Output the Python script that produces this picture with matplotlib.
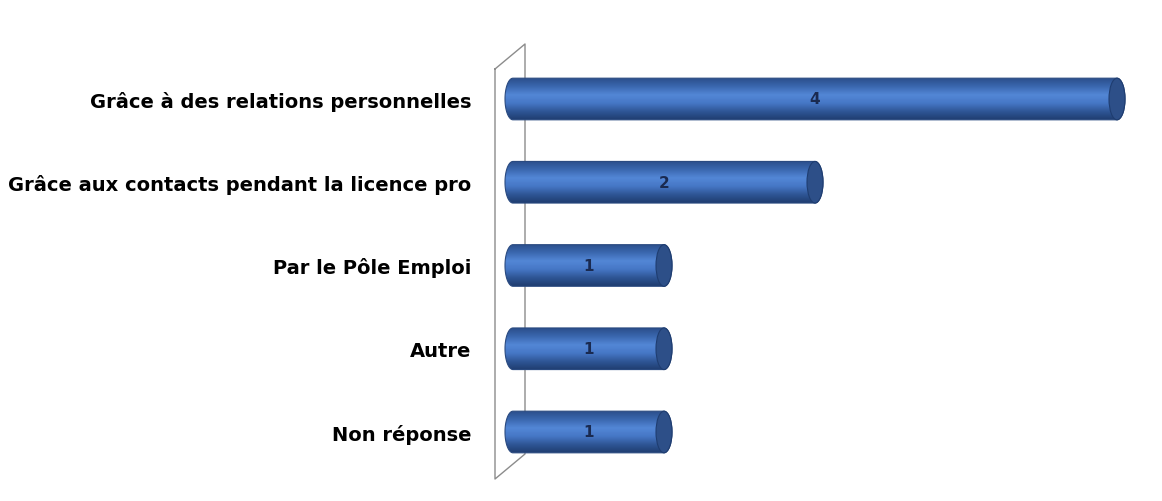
import numpy as np
import matplotlib
matplotlib.use("Agg")
import matplotlib.pyplot as plt
from matplotlib.path import Path
from matplotlib.patches import PathPatch, Ellipse
from matplotlib.colors import LinearSegmentedColormap

categories = ["Grâce à des relations personnelles",
              "Grâce aux contacts pendant la licence pro",
              "Par le Pôle Emploi",
              "Autre",
              "Non réponse"]
values = [4, 2, 1, 1, 1]

UX = 151.0   # px per unit
UY = 83.25   # px per category
X0 = 513     # px of value 0

fig = plt.figure(figsize=(11.62, 5.02), dpi=100)
ax = fig.add_axes([480 / 1162, 0, 682 / 1162, 1])
ax.set_xlim((480 - X0) / UX, (1162 - X0) / UX)
ax.set_ylim(402 / UY, -100 / UY)

# cylinder shading: dark edges, light middle
cmap = LinearSegmentedColormap.from_list(
    "cyl", ["#2b4f8c", "#3b68b0", "#5387d6", "#4677c6", "#2f5696", "#1f3d70"])

h = 0.5          # bar thickness
ew = 8 / UX      # half-width of end ellipse
t = np.linspace(-np.pi / 2, np.pi / 2, 40)

for i, v in enumerate(values):
    y0, y1 = i - h / 2, i + h / 2
    right = np.column_stack([v + ew * np.cos(t), i + h / 2 * np.sin(t)])
    left = np.column_stack([0 - ew * np.cos(t[::-1]), i + h / 2 * np.sin(t[::-1])])
    verts = np.vstack([right, left, right[:1]])
    codes = [Path.MOVETO] + [Path.LINETO] * (len(verts) - 2) + [Path.CLOSEPOLY]
    shape = PathPatch(Path(verts, codes), facecolor="none", edgecolor="#2a4a80", lw=0.8, zorder=3)
    ax.add_patch(shape)
    grad = np.linspace(0, 1, 64).reshape(-1, 1)
    im = ax.imshow(grad, cmap=cmap, aspect="auto", extent=[-ew, v + ew, y1, y0],
                   zorder=2, interpolation="bicubic")
    im.set_clip_path(shape)
    cap = Ellipse((v, i), 2 * ew, h, facecolor="#2d4f88", edgecolor="#1f3d70", lw=0.8, zorder=4)
    ax.add_patch(cap)
    ax.text(v / 2, i, str(v), ha="center", va="center", fontsize=11,
            fontweight="bold", color="#1a2a50", zorder=5)

# 3D back wall outline
fx, bx = (495 - X0) / UX, (525 - X0) / UX
ax.plot([fx, fx, bx, bx, fx], [-30 / UY, 380 / UY, 355 / UY, -55 / UY, -30 / UY],
        color="#8c8c8c", lw=1.0, zorder=1)

ax.set_yticks(range(len(categories)))
ax.set_yticklabels(categories, fontsize=14, fontweight="bold")
ax.tick_params(axis="y", length=0, pad=6)
ax.set_xticks([])
for s in ax.spines.values():
    s.set_visible(False)

fig.savefig("out.png", dpi=100)
